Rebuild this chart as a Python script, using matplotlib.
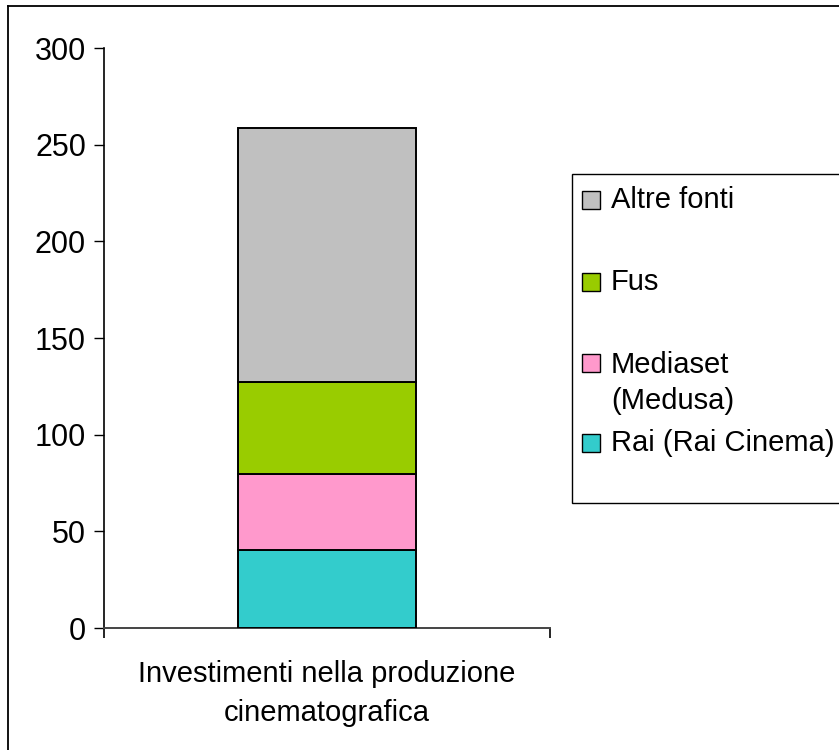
import matplotlib.pyplot as plt
from matplotlib.patches import Rectangle
from matplotlib.lines import Line2D

plt.rcParams['font.family'] = ['Liberation Sans', 'DejaVu Sans']

# ── Data (stacked from the bottom) ───────────────────────────────────────────
categories = ["Investimenti nella produzione\ncinematografica"]
series     = ["Rai (Rai Cinema)", "Mediaset\n(Medusa)", "Fus", "Altre fonti"]
values     = [40.3, 39.4, 47.6, 131.3]
colors     = ["#33CCCC", "#FF99CC", "#99CC00", "#C0C0C0"]
yticks     = [0, 50, 100, 150, 200, 250, 300]

W, H = 839, 750
fig = plt.figure(figsize=(W / 100, H / 100), dpi=100)
ax = fig.add_axes([104 / W, 1 - 628 / H, (550 - 104) / W, (628 - 48) / H])

bottom = 0
for lab, v, c in zip(series, values, colors):
    ax.bar(0, v, width=0.4, bottom=bottom, color=c, edgecolor="black",
           linewidth=1.4, label=lab, zorder=3)
    bottom += v

ax.set_xlim(-0.5, 0.5)
ax.set_ylim(0, 300)
ax.set_yticks(yticks)
ax.set_yticklabels([str(t) for t in yticks], fontsize=22)

# category boundaries carry the ticks, label sits in the middle
ax.set_xticks([-0.5, 0.5])
ax.set_xticklabels(["", ""])
ax.set_xticks([0], minor=True)
ax.set_xticklabels(categories, minor=True, fontsize=21, linespacing=1.5)
ax.tick_params(axis="x", which="major", direction="out", length=7, width=1.2)
ax.tick_params(axis="x", which="minor", length=0, pad=23)
ax.tick_params(axis="y", direction="out", length=7, width=1.0, pad=6)

for s in ["top", "right"]:
    ax.spines[s].set_visible(False)
ax.spines["left"].set_linewidth(1.2)
ax.spines["bottom"].set_linewidth(1.4)
ax.spines["bottom"].set_color("#444444")

# ── Outer chart border (Excel chart area) ────────────────────────────────────
fig.add_artist(Line2D([8 / W, 8 / W], [0, 1 - 6 / H], transform=fig.transFigure,
                      color="black", linewidth=1.3))
fig.add_artist(Line2D([8 / W, 1], [1 - 6 / H, 1 - 6 / H], transform=fig.transFigure,
                      color="black", linewidth=1.3))

# ── Legend drawn by hand, top entry first ────────────────────────────────────
fig.add_artist(Rectangle((572 / W, 1 - 503 / H), (W + 10 - 572) / W, (503 - 174) / H,
                         transform=fig.transFigure, facecolor="white",
                         edgecolor="black", linewidth=1.0))
entry_y = [200, 282, 363, 443]
for lab, c, y in zip(series[::-1], colors[::-1], entry_y):
    fig.add_artist(Rectangle((582 / W, 1 - (y + 9) / H), 18 / W, 18 / H,
                             transform=fig.transFigure, facecolor=c,
                             edgecolor="black", linewidth=1.0))
    if "\n" in lab:
        fig.text(611 / W, 1 - (y - 12) / H, lab, fontsize=21, va="top",
                 ha="left", linespacing=1.35)
    else:
        fig.text(611 / W, 1 - y / H, lab, fontsize=21, va="center", ha="left")

fig.savefig("out.png", dpi=100)
